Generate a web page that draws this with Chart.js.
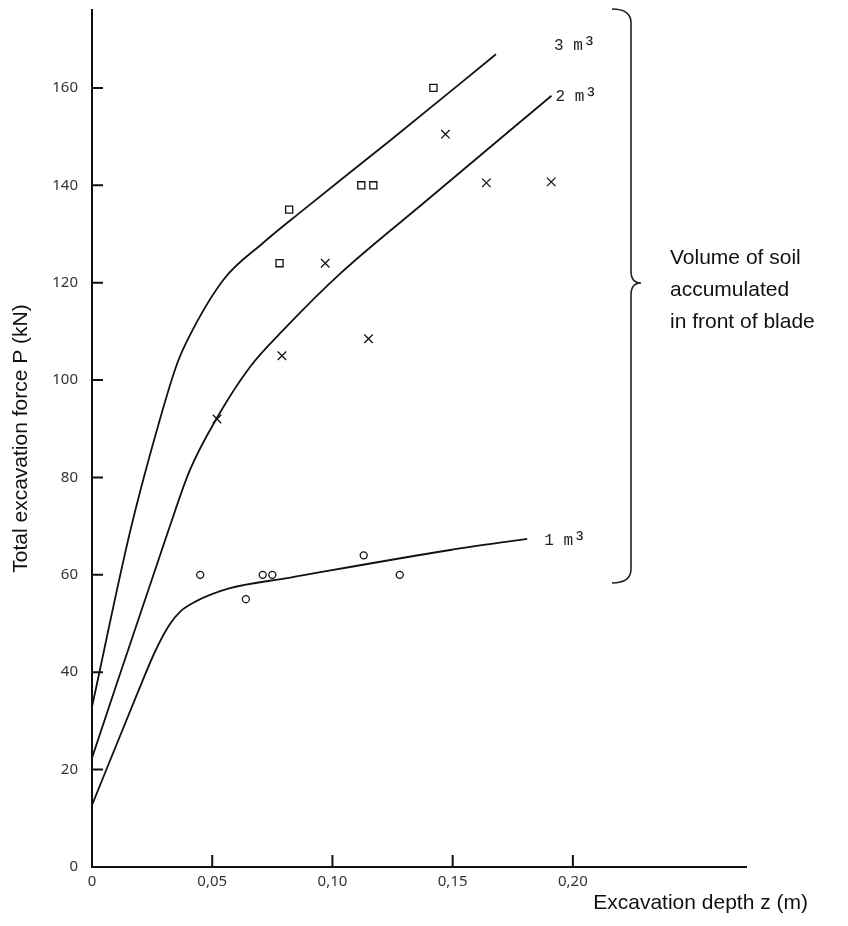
<!DOCTYPE html>
<html>
<head>
<meta charset="utf-8">
<title>Excavation force vs depth</title>
<script src="https://cdn.jsdelivr.net/npm/chart.js@4.4.1/dist/chart.umd.min.js"></script>
<style>
    html, body { margin: 0; padding: 0; background: #fff; }
    canvas { display: block; }
</style>
</head>
<body>
<canvas id="chart_soil" width="848" height="926"></canvas>
<script>
const canvasChartSoil = document.getElementById('chart_soil');

/* DATA */
const X_TICKS = [0, 0.05, 0.10, 0.15, 0.20];
const Y_TICKS = [0, 20, 40, 60, 80, 100, 120, 140, 160];

// measured points (depth z in m, force P in kN)
const POINTS_1M3_X = [0.045, 0.064, 0.071, 0.075, 0.113, 0.128];
const POINTS_1M3_Y = [60, 55, 60, 60, 64, 60];

const POINTS_2M3_X = [0.052, 0.079, 0.097, 0.115, 0.147, 0.164, 0.191];
const POINTS_2M3_Y = [92, 105, 124, 108.5, 150.5, 140.5, 140.7];

const POINTS_3M3_X = [0.078, 0.082, 0.112, 0.117, 0.142];
const POINTS_3M3_Y = [124, 135, 140, 140, 160];

// fitted curves
const CURVE_1M3_X = [0, 0.019, 0.026, 0.032, 0.037, 0.043, 0.057, 0.082, 0.149, 0.181];
const CURVE_1M3_Y = [12.7, 35.8, 44.0, 49.6, 52.6, 54.5, 57.2, 59.4, 65.1, 67.4];

const CURVE_2M3_X = [0, 0.0317, 0.0407, 0.0518, 0.0657, 0.0802, 0.1031, 0.1378, 0.1911];
const CURVE_2M3_Y = [22.4, 69.0, 81.5, 92.1, 102.7, 110.6, 121.8, 136.3, 158.4];

const CURVE_3M3_X = [0, 0.016, 0.028, 0.0355, 0.041, 0.055, 0.071, 0.087, 0.124, 0.168];
const CURVE_3M3_Y = [32.9, 69.2, 91.5, 103.5, 109.5, 120.8, 128.1, 134.6, 149.2, 166.9];

const CURVE_LABELS = ['1 m', '2 m', '3 m'];
const NOTE_LINES = ['Volume of soil', 'accumulated', 'in front of blade'];
const X_TITLE = 'Excavation depth z (m)';
const Y_TITLE = 'Total excavation force P (kN)';

/* HELPERS */
const toXY = (xs, ys) => xs.map((x, i) => ({ x: x, y: ys[i] }));

const INK = '#111';

const GET_CURVE = (xs, ys) => {
    return {
        data: toXY(xs, ys),
        showLine: true,
        pointRadius: 0,
        borderColor: INK,
        borderWidth: 1.8,
        tension: 0.4,
        cubicInterpolationMode: 'monotone',
        fill: false
    };
};

const GET_MARKS = (xs, ys, style, radius) => {
    return {
        data: toXY(xs, ys),
        showLine: false,
        pointStyle: style,
        pointRadius: radius,
        pointBorderWidth: 1.3,
        pointBorderColor: INK,
        pointBackgroundColor: '#fff',
        borderColor: INK,
        backgroundColor: '#fff'
    };
};

const fmtX = (v) => v === 0 ? '0' : v.toFixed(2).replace('.', ',');

/* PLUGINS */
// short tick marks pointing into the plot, like the original figure
const innerTicks = {
    id: 'innerTicks',
    afterDatasetsDraw(chart) {
        const { ctx, chartArea, scales } = chart;
        ctx.save();
        ctx.strokeStyle = INK;
        ctx.lineWidth = 2;
        ctx.beginPath();
        Y_TICKS.slice(1).forEach(v => {
            const y = scales.y.getPixelForValue(v);
            ctx.moveTo(chartArea.left, y);
            ctx.lineTo(chartArea.left + 11, y);
        });
        X_TICKS.slice(1).forEach(v => {
            const x = scales.x.getPixelForValue(v);
            ctx.moveTo(x, chartArea.bottom);
            ctx.lineTo(x, chartArea.bottom - 12);
        });
        ctx.stroke();
        ctx.restore();
    }
};

// curve labels, x title, brace and side note
const notes = {
    id: 'notes',
    afterDraw(chart) {
        const { ctx, scales, chartArea } = chart;
        const curves = [[CURVE_1M3_X, CURVE_1M3_Y, 17, 6], [CURVE_2M3_X, CURVE_2M3_Y, 4, 5], [CURVE_3M3_X, CURVE_3M3_Y, 58, -4]];
        ctx.save();
        ctx.fillStyle = '#222';
        ctx.textBaseline = 'alphabetic';
        ctx.textAlign = 'left';
        curves.forEach((c, i) => {
            const last = c[0].length - 1;
            const x = scales.x.getPixelForValue(c[0][last]) + c[2];
            const y = scales.y.getPixelForValue(c[1][last]) + c[3];
            ctx.font = '16px "Liberation Mono"';
            ctx.fillText(CURVE_LABELS[i], x, y);
            const w = ctx.measureText(CURVE_LABELS[i]).width;
            ctx.font = '22px "Liberation Mono"';
            ctx.fillText('\u00B3', x + w, y + 1);
        });

        // x axis title sits to the right, past the end of the axis
        ctx.fillStyle = INK;
        ctx.font = '21px "Liberation Sans"';
        ctx.textAlign = 'right';
        ctx.textBaseline = 'middle';
        ctx.fillText(X_TITLE, chartArea.right + 62, 903);

        // brace
        const top = 9, mid = 283, bottom = 583, x0 = 612, x1 = 631, tip = 641;
        ctx.strokeStyle = '#222';
        ctx.lineWidth = 1.6;
        ctx.beginPath();
        ctx.moveTo(x0, top);
        ctx.quadraticCurveTo(x1, top, x1, top + 14);
        ctx.lineTo(x1, mid - 12);
        ctx.quadraticCurveTo(x1, mid, tip, mid);
        ctx.quadraticCurveTo(x1, mid, x1, mid + 12);
        ctx.lineTo(x1, bottom - 14);
        ctx.quadraticCurveTo(x1, bottom, x0, bottom);
        ctx.stroke();

        ctx.font = '21px "Liberation Sans"';
        ctx.textAlign = 'left';
        NOTE_LINES.forEach((line, i) => {
            ctx.fillText(line, 670, 258 + i * 32);
        });
        ctx.restore();
    }
};

/* Chart */
var chartSoil = new Chart(canvasChartSoil, {
    type: 'scatter',
    data: {
        datasets: [
            GET_CURVE(CURVE_1M3_X, CURVE_1M3_Y),
            GET_CURVE(CURVE_2M3_X, CURVE_2M3_Y),
            GET_CURVE(CURVE_3M3_X, CURVE_3M3_Y),
            GET_MARKS(POINTS_1M3_X, POINTS_1M3_Y, 'circle', 3.5),
            GET_MARKS(POINTS_2M3_X, POINTS_2M3_Y, 'crossRot', 6),
            GET_MARKS(POINTS_3M3_X, POINTS_3M3_Y, 'rect', 5)
        ]
    },
    options: {
        responsive: false,
        animation: false,
        events: [],
        layout: { padding: { top: 10, left: 7, right: 102, bottom: 8 } },
        plugins: {
            legend: { display: false },
            tooltip: { enabled: false }
        },
        scales: {
            x: {
                type: 'linear',
                min: 0,
                max: 0.272,
                afterBuildTicks: (s) => { s.ticks = X_TICKS.map(v => ({ value: v })); },
                afterFit: (s) => { s.height = 51; s.paddingLeft = 0; s.paddingRight = 0; },
                grid: { display: true, drawOnChartArea: false, drawTicks: false },
                border: { color: INK, width: 2 },
                ticks: {
                    padding: 6,
                    color: '#333',
                    font: { family: '"Noto Sans"', size: 15 },
                    callback: (v) => fmtX(v)
                },
                title: { display: false }
            },
            y: {
                type: 'linear',
                min: 0,
                max: 176,
                afterBuildTicks: (s) => { s.ticks = Y_TICKS.map(v => ({ value: v })); },
                afterFit: (s) => { s.width = 85; s.paddingTop = 0; s.paddingBottom = 0; },
                grid: { display: true, drawOnChartArea: false, drawTicks: false },
                border: { color: INK, width: 2 },
                ticks: {
                    padding: 14,
                    color: '#333',
                    font: { family: '"Noto Sans"', size: 15 }
                },
                title: {
                    display: true,
                    text: Y_TITLE,
                    color: INK,
                    font: { family: '"Liberation Sans"', size: 21 },
                    padding: { top: 2, bottom: 0 }
                }
            }
        }
    },
    plugins: [innerTicks, notes]
});
</script>
</body>
</html>
